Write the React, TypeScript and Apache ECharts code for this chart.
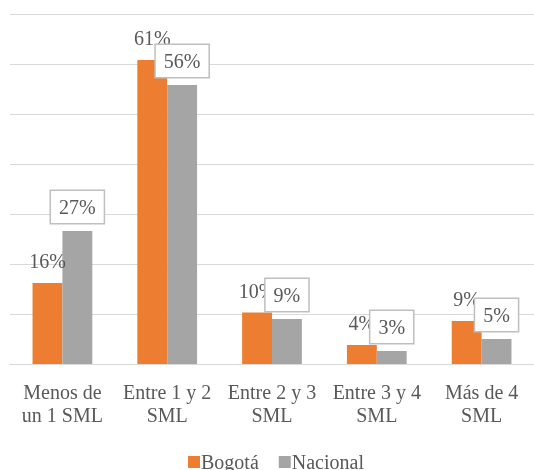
import React, { useEffect, useRef } from "react";
import * as echarts from "echarts";

const categories = [
  "Menos de\nun 1 SML",
  "Entre 1 y 2\nSML",
  "Entre 2 y 3\nSML",
  "Entre 3 y 4\nSML",
  "Más de 4\nSML",
];
const bogota = [16.2, 60.8, 10.3, 3.8, 8.6];
const nacional = [26.6, 55.8, 9.0, 2.6, 5.0];
const seriesNames = ["Bogotá", "Nacional"];

const FONT = "Liberation Serif";
const TXT = "#595959";

export default function App() {
  const ref = useRef<HTMLDivElement>(null);
  useEffect(() => {
    if (!ref.current) return;
    const chart = echarts.init(ref.current, undefined, { renderer: "svg" });
    chart.setOption({
      animation: false,
      textStyle: { fontFamily: FONT },
      grid: { left: 10, top: 14, width: 530, height: 350, containLabel: false },
      legend: {
        data: seriesNames,
        left: 183,
        top: 447,
        icon: "rect",
        itemWidth: 12,
        itemHeight: 12,
        itemGap: 20,
        textStyle: {
          fontFamily: FONT,
          fontSize: 20,
          lineHeight: 20,
          color: TXT,
          padding: [0, 0, 0, -4],
        },
      },
      xAxis: {
        type: "category",
        data: categories,
        axisLine: { lineStyle: { color: "#d9d9d9", width: 1 } },
        axisTick: { show: false },
        axisLabel: {
          fontFamily: FONT,
          fontSize: 20,
          color: TXT,
          margin: 16,
          lineHeight: 23,
          interval: 0,
        },
      },
      yAxis: {
        type: "value",
        min: 0,
        max: 70,
        interval: 10,
        axisLabel: { show: false },
        axisLine: { show: false },
        axisTick: { show: false },
        splitLine: { lineStyle: { color: "#d9d9d9", width: 1 } },
      },
      series: [
        {
          name: seriesNames[0],
          type: "bar",
          data: bogota,
          barGap: "0%",
          barCategoryGap: "43%",
          itemStyle: { color: "#ED7D31" },
          label: {
            show: true,
            position: "top",
            distance: 12,
            fontFamily: FONT,
            fontSize: 20,
            color: TXT,
            formatter: (p: any) => Math.round(p.value) + "%",
          },
        },
        {
          name: seriesNames[1],
          type: "bar",
          data: nacional,
          barGap: "0%",
          barCategoryGap: "43%",
          itemStyle: { color: "#A5A5A5" },
          label: {
            show: true,
            position: "top",
            distance: 8,
            fontFamily: FONT,
            fontSize: 20,
            color: TXT,
            backgroundColor: "#ffffff",
            borderColor: "#bfbfbf",
            borderWidth: 1.5,
            padding: [6, 8],
            formatter: (p: any) => Math.round(p.value) + "%",
          },
        },
      ],
    });
    return () => chart.dispose();
  }, []);
  return (
    <>
      <style>{`#chart-box svg text { font-family: "Liberation Serif", serif !important; }`}</style>
      <div
        id="chart-box"
        ref={ref}
        style={{ position: "fixed", left: 0, top: 0, width: 534, height: 470 }}
      />
    </>
  );
}
